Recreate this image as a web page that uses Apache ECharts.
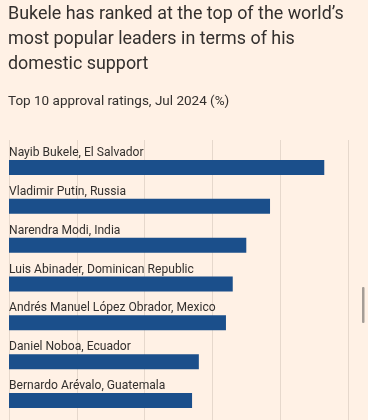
<!DOCTYPE html>
<html>
<head>
<meta charset="utf-8">
<script src="https://cdn.jsdelivr.net/npm/echarts@6/dist/echarts.min.js"></script>
<style>
html,body{margin:0;padding:0;background:#FFF1E5;}
#c{width:368px;height:420px;}
</style>
</head>
<body>
<div id="c"></div>
<script>
var leaders = [
  'Nayib Bukele, El Salvador',
  'Vladimir Putin, Russia',
  'Narendra Modi, India',
  'Luis Abinader, Dominican Republic',
  'Andrés Manuel López Obrador, Mexico',
  'Daniel Noboa, Ecuador',
  'Bernardo Arévalo, Guatemala'
];
var approval = [93, 77, 70, 66, 64, 56, 54];
var titleText = "Bukele has ranked at the top of the world’s\nmost popular leaders in terms of his\ndomestic support";
var subtitleText = 'Top 10 approval ratings, Jul 2024 (%)';

var chart = echarts.init(document.getElementById('c'), null, {renderer: 'canvas'});
var font = 'Roboto';
chart.setOption({
  backgroundColor: '#FFF1E5',
  animation: false,
  title: [
    {text: titleText, left: 8, top: 2, padding: 0,
     textStyle: {fontFamily: font, fontSize: 17.9, fontWeight: 'normal', color: '#33302E', lineHeight: 25}},
    {text: subtitleText, left: 8, top: 95, padding: 0,
     textStyle: {fontFamily: font, fontSize: 13.5, fontWeight: 'normal', color: '#33302E'}}
  ],
  grid: [
    {left: 9, right: 20, top: 140, height: 300, containLabel: false},
    {left: 9, right: 20, top: 148, height: 280, containLabel: false}
  ],
  xAxis: [
    {gridIndex: 0, type: 'value', min: 0, max: 100, interval: 20,
     axisLine: {show: false}, axisTick: {show: false}, axisLabel: {show: false},
     splitLine: {show: true, lineStyle: {color: '#E6D8CC', width: 1}}},
    {gridIndex: 1, type: 'value', min: 0, max: 100, interval: 20, show: false}
  ],
  yAxis: [
    {gridIndex: 0, type: 'category', data: leaders, show: false, inverse: true},
    {gridIndex: 1, type: 'category', data: leaders, show: false, inverse: true}
  ],
  series: [{
    type: 'bar',
    xAxisIndex: 1, yAxisIndex: 1,
    data: approval,
    barWidth: 15,
    itemStyle: {color: '#1B4F8B'},
    label: {show: true, position: [0, -1], align: 'left', verticalAlign: 'bottom',
      formatter: '{b}', fontFamily: font, fontSize: 12.1, color: '#33302E'}
  }],
  graphic: [{
    type: 'rect', shape: {x: 362, y: 287, width: 2.5, height: 36, r: 1},
    style: {fill: '#A59D96'}
  }]
});
</script>
</body>
</html>
